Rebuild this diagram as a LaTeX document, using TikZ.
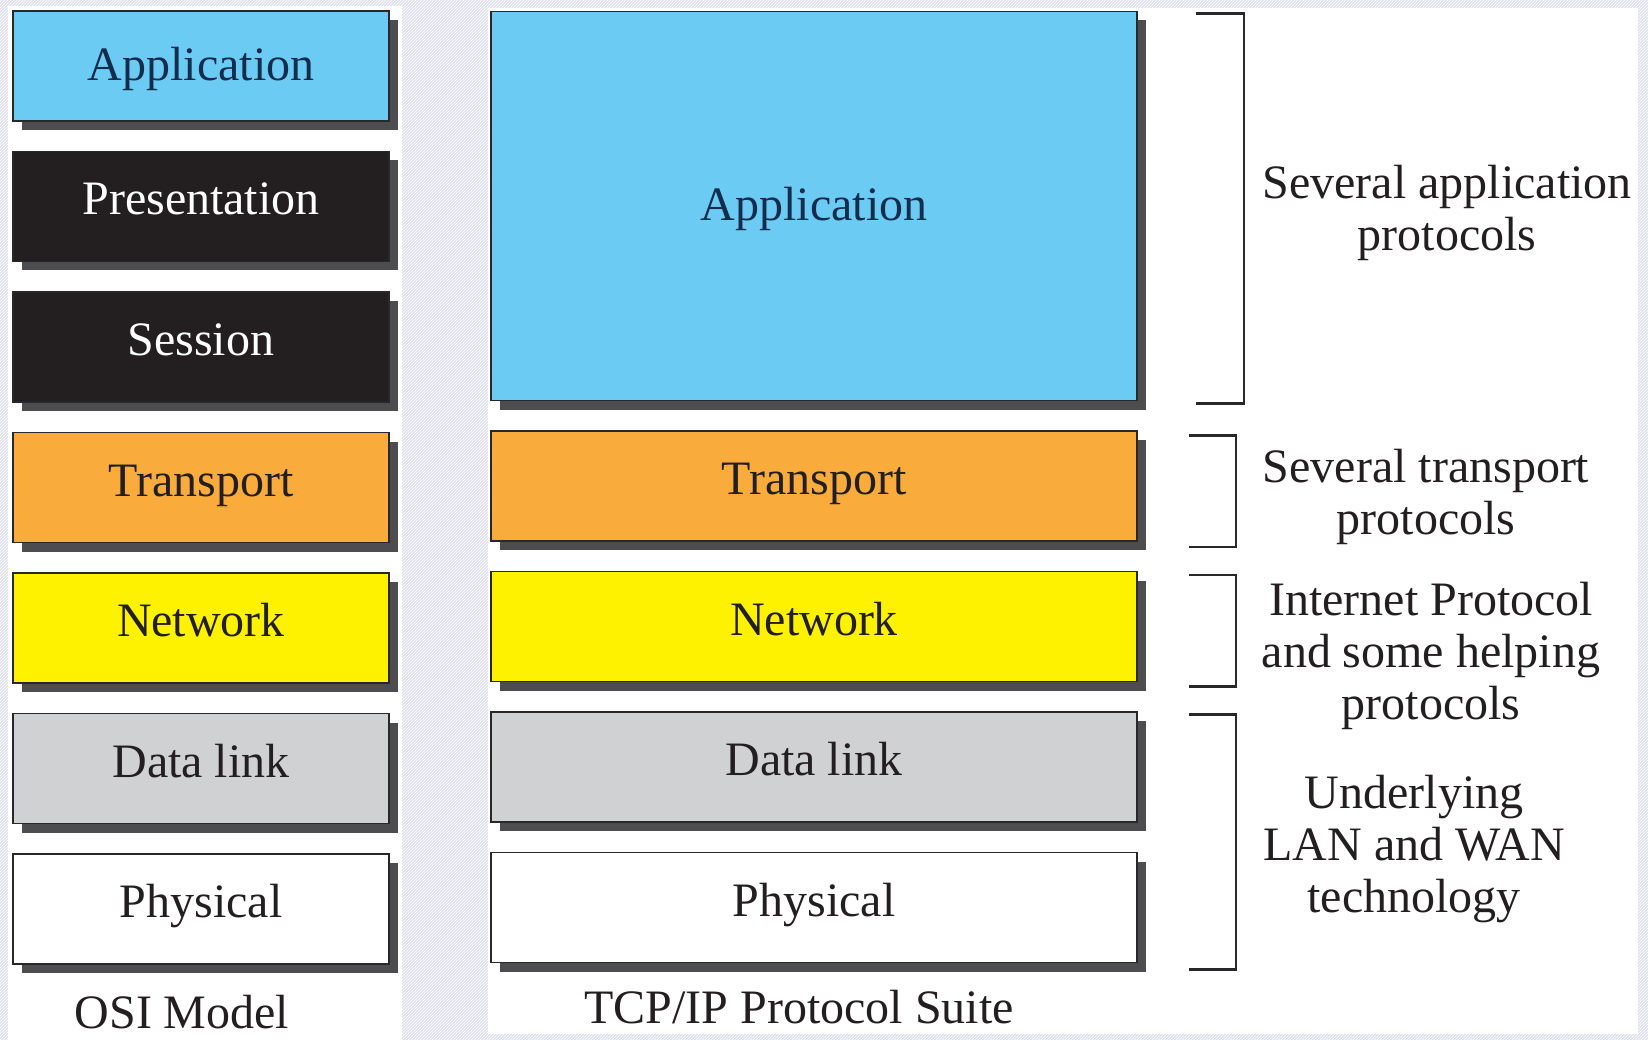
\documentclass[tikz,border=0pt]{standalone}
\usepackage{fontspec}
\setmainfont{Liberation Serif}
\usetikzlibrary{positioning,shadows,patterns}
\definecolor{appblue}{RGB}{108,203,242}
\definecolor{sessblack}{RGB}{35,31,32}
\definecolor{transorange}{RGB}{249,172,60}
\definecolor{netyellow}{RGB}{255,242,0}
\definecolor{linkgray}{RGB}{208,209,211}
\definecolor{shadowgray}{RGB}{77,77,80}
\definecolor{boxline}{RGB}{40,40,42}
\definecolor{textdark}{RGB}{35,31,32}
\definecolor{textnavy}{RGB}{18,45,78}
\definecolor{hatchbg}{RGB}{224,224,238}
\tikzset{
    % layer boxes
    layer/.style={
           rectangle,
           draw=boxline, line width=1.5pt,
           minimum width=376pt,
           minimum height=110pt,
           inner sep=0pt,
           text height=32pt, text depth=15pt,
           text=textdark,
           font=\fontsize{48}{52}\selectfont,
           drop shadow={shadow xshift=9pt, shadow yshift=-9pt,
                        fill=shadowgray, opacity=1}},
    widelayer/.style={layer, minimum width=646pt},
    applayer/.style={fill=appblue, text=textnavy, text depth=3pt},
    % brackets and notes
    bracket/.style={draw=boxline, line width=2.5pt},
    note/.style={align=center, text=textdark,
           font=\fontsize{48}{52}\selectfont},
}
\begin{document}
\begin{tikzpicture}[x=1pt,y=1pt,node distance=29pt]
\useasboundingbox (0,0) rectangle (1648,-1040);
 %background
\fill[hatchbg] (0,0) rectangle (1648,-1040);
\fill[pattern=north east lines, pattern color=white] (0,0) rectangle (1648,-1040);
\fill[white] (8,-6) rectangle (402,-1040);
\fill[white] (488,-8) rectangle (1638,-1034);

 %OSI model
\node[layer, applayer] (oapp) at (201,-66) {Application};
\node[layer, fill=sessblack, text=white, below=of oapp] (opres) {Presentation};
\node[layer, fill=sessblack, text=white, below=of opres] (osess) {Session};
\node[layer, fill=transorange, below=of osess] (otrans) {Transport};
\node[layer, fill=netyellow, below=of otrans] (onet) {Network};
\node[layer, fill=linkgray, below=of onet] (olink) {Data link};
\node[layer, fill=white, below=of olink] (ophys) {Physical};
\node[note] (osi) at (182,-1012) {OSI Model};

 %TCP/IP suite
\node[widelayer, applayer, minimum height=389pt] (tapp) at (814,-206) {Application};
\node[widelayer, fill=transorange, below=of tapp] (ttrans) {Transport};
\node[widelayer, fill=netyellow, below=of ttrans] (tnet) {Network};
\node[widelayer, fill=linkgray, below=of tnet] (tlink) {Data link};
\node[widelayer, fill=white, below=of tlink] (tphys) {Physical};
\node[note] (tcp) at (799,-1007) {TCP/IP Protocol Suite};

 %brackets
\draw[bracket] ([xshift=58pt,yshift=-3pt]tapp.north east) -- ++(48,0) |- ([xshift=58pt,yshift=-2pt]tapp.south east);
\draw[bracket] ([xshift=51pt,yshift=-5pt]ttrans.north east) -- ++(47,0) |- ([xshift=51pt,yshift=-5pt]ttrans.south east);
\draw[bracket] ([xshift=51pt,yshift=-4pt]tnet.north east) -- ++(47,0) |- ([xshift=51pt,yshift=-4pt]tnet.south east);
\draw[bracket] ([xshift=51pt,yshift=-3pt]tlink.north east) -- ++(47,0) |- ([xshift=51pt,yshift=-6pt]tphys.south east);

 %notes
\node[note] (napp) at (1447,-213) {Several application\\protocols};
\node[note] (ntrans) at (1426,-497) {Several transport\\protocols};
\node[note] (nnet) at (1431,-656) {Internet Protocol\\and some helping\\protocols};
\node[note] (nlink) at (1414,-849) {Underlying\\LAN and WAN\\technology};
\end{tikzpicture}
\end{document}
